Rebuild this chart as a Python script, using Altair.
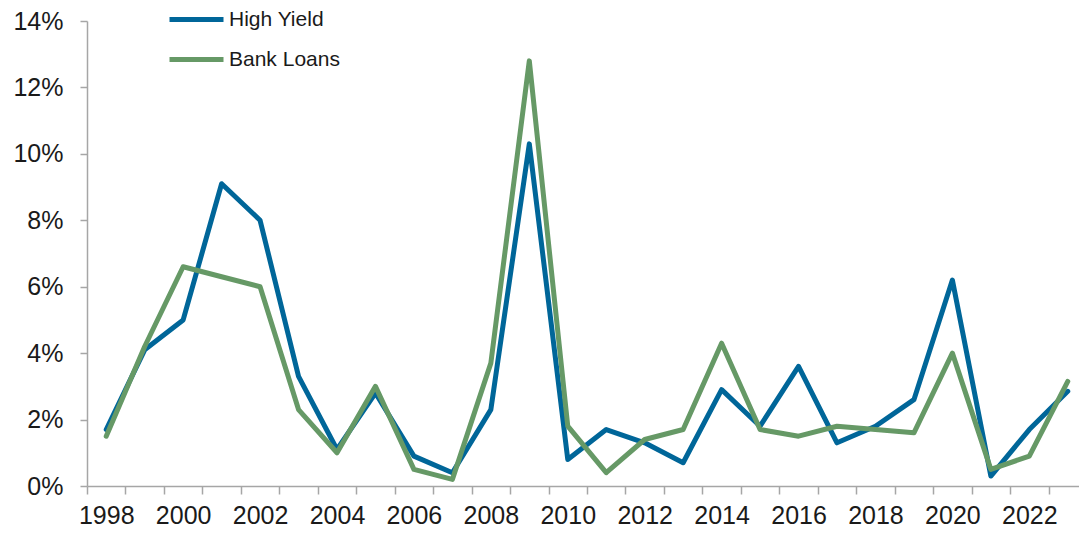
import altair as alt
import pandas as pd

years = list(range(1998, 2024))
high_yield = [1.7, 4.1, 5.0, 9.1, 8.0, 3.3, 1.1, 2.8, 0.9, 0.4, 2.3, 10.3, 0.8,
              1.7, 1.3, 0.7, 2.9, 1.8, 3.6, 1.3, 1.8, 2.6, 6.2, 0.3, 1.7, 2.85]
bank_loans = [1.5, 4.2, 6.6, 6.3, 6.0, 2.3, 1.0, 3.0, 0.5, 0.2, 3.7, 12.8, 1.8,
              0.4, 1.4, 1.7, 4.3, 1.7, 1.5, 1.8, 1.7, 1.6, 4.0, 0.5, 0.9, 3.15]
series = ["High Yield", "Bank Loans"]
colors = ["#006699", "#669966"]
y_ticks = [0, 2, 4, 6, 8, 10, 12, 14]

rows = []
for name, vals in zip(series, [high_yield, bank_loans]):
    for yr, v in zip(years, vals):
        rows.append({"year": yr, "value": v / 100, "series": name})
df = pd.DataFrame(rows)

FONT = "Liberation Sans"
AXIS_COLOR = "#A6A6A6"

chart = alt.Chart(df).mark_line(strokeWidth=5, strokeCap="round", strokeJoin="round").encode(
    x=alt.X("year:O",
            scale=alt.Scale(type="band", paddingInner=0, paddingOuter=0),
            axis=alt.Axis(title=None, labelAngle=0, tickBand="extent",
                          labelExpr="datum.value % 2 == 0 ? datum.label : ''",
                          labelFontSize=25, labelPadding=9, tickSize=8)),
    y=alt.Y("value:Q",
            scale=alt.Scale(domain=[0, 0.14], nice=False),
            axis=alt.Axis(title=None, format=".0%", values=[t / 100 for t in y_ticks],
                          labelFontSize=25, labelPadding=17, tickSize=7, grid=False)),
    color=alt.Color("series:N",
                    scale=alt.Scale(domain=series, range=colors),
                    legend=alt.Legend(title=None, orient="none", legendX=80, legendY=-31,
                                      symbolType="stroke", symbolSize=2916,
                                      symbolStrokeWidth=5, labelFontSize=21,
                                      rowPadding=0, labelOffset=3)),
    detail="series:N",
).properties(
    width=1000, height=465,
    autosize=alt.AutoSizeParams(type="none"),
    padding={"left": 79, "top": 13, "right": -8, "bottom": 45},
).configure_axis(
    labelFont=FONT, labelColor="#1a1a1a", domainColor=AXIS_COLOR, tickColor=AXIS_COLOR,
    domainWidth=1.5, tickWidth=1.5,
).configure_legend(
    labelFont=FONT, labelColor="#1a1a1a",
).configure_view(stroke=None)

chart.save("out.html", embed_options={"renderer": "svg", "actions": False})
